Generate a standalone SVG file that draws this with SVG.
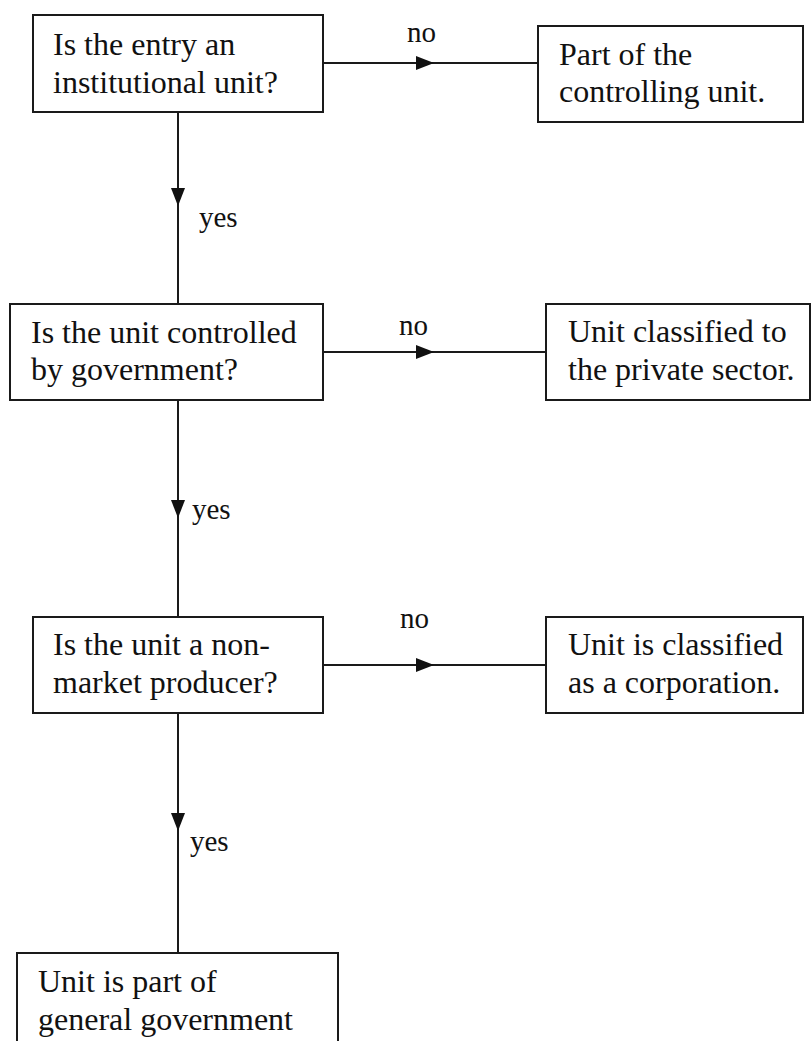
<svg xmlns="http://www.w3.org/2000/svg" width="812" height="1041" viewBox="0 0 812 1041">
<style>
.box{fill:#fff;stroke:#1a1a1a;stroke-width:2}
.t{font-family:"Liberation Serif","Times New Roman",serif;font-size:32px;fill:#111}
.l{font-family:"Liberation Serif","Times New Roman",serif;font-size:29px;fill:#111}
.c{fill:none;stroke:#1a1a1a;stroke-width:2;marker-mid:url(#arr)}
</style>
<defs>
<marker id="arr" markerUnits="userSpaceOnUse" viewBox="0 0 18 14" refX="18" refY="7" markerWidth="18" markerHeight="14" orient="auto">
<path d="M0,0 L18,7 L0,14 z" fill="#111"/>
</marker>
</defs>
<rect width="812" height="1041" fill="#fff"/>
<g id="connectors">
<path class="c" d="M323,63 L434,63 L547,63"/>
<path class="c" d="M178,112 L178,206 L178,304"/>
<path class="c" d="M323,352 L434,352 L546,352"/>
<path class="c" d="M178,400 L178,518 L178,617"/>
<path class="c" d="M323,665 L434,665 L546,665"/>
<path class="c" d="M178,713 L178,831 L178,953"/>
<text class="l" x="407" y="42">no</text>
<text class="l" x="199" y="227">yes</text>
<text class="l" x="399" y="335">no</text>
<text class="l" x="192" y="519">yes</text>
<text class="l" x="400" y="628">no</text>
<text class="l" x="190" y="851">yes</text>
</g>
<g id="n1">
<rect class="box" x="33" y="15" width="290" height="97"/>
<text class="t" x="53" y="55">Is the entry an</text>
<text class="t" x="53" y="93">institutional unit?</text>
</g>
<g id="n2">
<rect class="box" x="538" y="26" width="265" height="96"/>
<text class="t" x="559" y="65">Part of the</text>
<text class="t" x="559" y="102">controlling unit.</text>
</g>
<g id="n3">
<rect class="box" x="10" y="304" width="313" height="96"/>
<text class="t" x="31" y="343">Is the unit controlled</text>
<text class="t" x="31" y="380">by government?</text>
</g>
<g id="n4">
<rect class="box" x="546" y="304" width="264" height="96"/>
<text class="t" x="568" y="342">Unit classified to</text>
<text class="t" x="568" y="380">the private sector.</text>
</g>
<g id="n5">
<rect class="box" x="33" y="617" width="290" height="96"/>
<text class="t" x="53" y="655">Is the unit a non-</text>
<text class="t" x="53" y="693">market producer?</text>
</g>
<g id="n6">
<rect class="box" x="546" y="617" width="257" height="96"/>
<text class="t" x="568" y="655">Unit is classified</text>
<text class="t" x="568" y="693">as a corporation.</text>
</g>
<g id="n7">
<rect class="box" x="17" y="953" width="321" height="100"/>
<text class="t" x="38" y="992">Unit is part of</text>
<text class="t" x="38" y="1030">general government</text>
</g>
</svg>
